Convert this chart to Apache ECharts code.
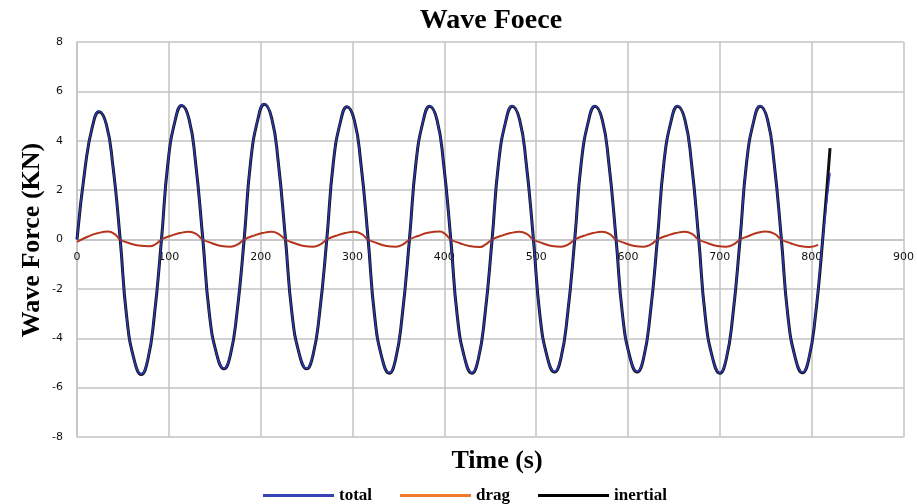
<!DOCTYPE html>
<html>
<head>
<meta charset="utf-8">
<style>
  html, body { margin: 0; padding: 0; background: #fff; }
  #main { width: 917px; height: 504px; }
</style>
<script src="https://cdn.jsdelivr.net/npm/echarts@6/dist/echarts.min.js"></script>
</head>
<body>
<div id="main"></div>
<script>
// sample times (s) for total / inertial
var forceTime = [
  0, 9, 17, 24, 32, 39, 47, 54, 62, 70, 77, 84,
  92, 99, 107, 114, 122, 129, 137, 144, 152, 160, 167, 174,
  182, 189, 197, 204, 212, 219, 227, 234, 242, 250, 257, 264,
  272, 279, 287, 294, 302, 309, 317, 324, 332, 340, 347, 354,
  362, 369, 377, 384, 392, 399, 407, 414, 422, 430, 437, 444,
  452, 459, 467, 474, 482, 489, 497, 504, 512, 520, 527, 534,
  542, 549, 557, 564, 572, 579, 587, 594, 602, 610, 617, 624,
  632, 639, 647, 654, 662, 669, 677, 684, 692, 700, 707, 714,
  722, 729, 737, 744, 752, 759, 767, 774, 782, 790, 797, 804,
  812, 820
];
var totalForce = [
  0, 2.98, 4.63, 5.2, 4.63, 2.98, 0, -3.13, -4.86, -5.45, -4.86, -3.13,
  0, 3.13, 4.86, 5.45, 4.86, 3.13, 0, -3.0, -4.65, -5.22, -4.65, -3.0,
  0, 3.16, 4.9, 5.5, 4.9, 3.16, 0, -3.0, -4.65, -5.22, -4.65, -3.0,
  0, 3.1, 4.81, 5.4, 4.81, 3.1, 0, -3.1, -4.81, -5.4, -4.81, -3.1,
  0, 3.11, 4.83, 5.42, 4.83, 3.11, 0, -3.1, -4.81, -5.4, -4.81, -3.1,
  0, 3.11, 4.83, 5.42, 4.83, 3.11, 0, -3.07, -4.77, -5.35, -4.77, -3.07,
  0, 3.11, 4.83, 5.42, 4.83, 3.11, 0, -3.07, -4.77, -5.35, -4.77, -3.07,
  0, 3.11, 4.83, 5.42, 4.83, 3.11, 0, -3.1, -4.81, -5.4, -4.81, -3.1,
  0, 3.11, 4.83, 5.42, 4.83, 3.11, 0, -3.09, -4.79, -5.38, -4.79, -3.09,
  0, 2.7
];
var inertialForce = [
  0, 2.95, 4.61, 5.17, 4.65, 3.01, 0.02, -3.1, -4.84, -5.47, -4.89, -3.16,
  0, 3.1, 4.84, 5.43, 4.88, 3.16, 0.02, -2.97, -4.63, -5.24, -4.68, -3.03,
  0, 3.13, 4.88, 5.48, 4.92, 3.19, 0.02, -2.97, -4.63, -5.24, -4.68, -3.03,
  0, 3.07, 4.79, 5.38, 4.83, 3.13, 0.02, -3.07, -4.79, -5.42, -4.84, -3.13,
  0, 3.08, 4.81, 5.4, 4.85, 3.14, 0.02, -3.07, -4.79, -5.42, -4.84, -3.13,
  0, 3.08, 4.81, 5.4, 4.85, 3.14, 0.02, -3.04, -4.75, -5.37, -4.8, -3.1,
  0, 3.08, 4.81, 5.4, 4.85, 3.14, 0.02, -3.04, -4.75, -5.37, -4.8, -3.1,
  0, 3.08, 4.81, 5.4, 4.85, 3.14, 0.02, -3.07, -4.79, -5.42, -4.84, -3.13,
  0, 3.08, 4.81, 5.4, 4.85, 3.14, 0.02, -3.06, -4.77, -5.4, -4.82, -3.12,
  0, 3.7
];
// drag is sampled on its own times
var dragTime = [
  0, 12, 22, 34, 41, 47, 57, 67, 79, 86,
  92, 102, 112, 122, 130, 137, 147, 157, 167, 175,
  182, 192, 202, 212, 220, 227, 237, 247, 257, 265,
  272, 282, 292, 302, 310, 317, 327, 337, 347, 355,
  362, 372, 382, 395, 401, 407, 417, 427, 439, 445,
  452, 462, 472, 482, 490, 497, 507, 517, 527, 535,
  542, 552, 562, 572, 580, 587, 597, 607, 617, 625,
  632, 642, 652, 662, 670, 677, 687, 697, 707, 715,
  722, 732, 740, 750, 760, 767, 777, 787, 798, 807
];
var dragForce = [
  -0.1, 0.12, 0.25, 0.32, 0.22, 0, -0.15, -0.24, -0.27, -0.18,
  0, 0.15, 0.26, 0.31, 0.22, 0, -0.15, -0.26, -0.29, -0.2,
  0, 0.15, 0.26, 0.31, 0.21, 0, -0.15, -0.26, -0.29, -0.2,
  0, 0.15, 0.26, 0.31, 0.22, 0, -0.15, -0.26, -0.29, -0.2,
  0, 0.15, 0.27, 0.32, 0.22, 0, -0.15, -0.26, -0.3, -0.2,
  0, 0.15, 0.26, 0.31, 0.22, 0, -0.15, -0.26, -0.29, -0.2,
  0, 0.15, 0.26, 0.31, 0.22, 0, -0.15, -0.26, -0.29, -0.2,
  0, 0.15, 0.26, 0.31, 0.22, 0, -0.15, -0.26, -0.29, -0.2,
  0, 0.15, 0.26, 0.32, 0.22, 0, -0.15, -0.26, -0.3, -0.22
];
var seriesNames = ['total', 'drag', 'inertial'];

function pairs(xs, ys) {
  return xs.map(function (x, i) { return [x, ys[i]]; });
}

var serif = '"Liberation Serif", "Times New Roman", serif';
var gridColor = '#c3c3c3';

var chart = echarts.init(document.getElementById('main'));
var option = {
  animation: false,
  title: {
    text: 'Wave Foece',
    left: 486,
    top: 2,
    textAlign: 'center',
    textStyle: { fontFamily: serif, fontSize: 28, fontWeight: 'bold', color: '#000' }
  },
  graphic: [
    {
      type: 'text',
      x: 32, y: 240,
      rotation: Math.PI / 2,
      style: {
        text: 'Wave Force (KN)',
        font: 'bold 26px ' + serif,
        fill: '#000',
        align: 'center',
        verticalAlign: 'middle'
      }
    },
    {
      type: 'text',
      x: 497, y: 461,
      style: {
        text: 'Time (s)',
        font: 'bold 26px ' + serif,
        fill: '#000',
        align: 'center',
        verticalAlign: 'middle'
      }
    }
  ],
  legend: {
    left: 258,
    top: 482,
    icon: 'rect',
    itemWidth: 71,
    itemHeight: 3,
    itemGap: 28,
    textStyle: { fontFamily: serif, fontSize: 17, fontWeight: 'bold', color: '#000' },
    data: [
      { name: 'total', itemStyle: { color: '#3742b5' } },
      { name: 'drag', itemStyle: { color: '#f07a2c' } },
      { name: 'inertial', itemStyle: { color: '#000000' } }
    ]
  },
  grid: { left: 77, right: 9, top: 42, bottom: 67 },
  xAxis: {
    type: 'value',
    min: 0, max: 900, interval: 100,
    offset: -197.5, // x axis sits on the zero line
    axisLine: { onZero: false, lineStyle: { color: gridColor, width: 1.5 } },
    axisTick: { show: false },
    axisLabel: { color: '#111', fontSize: 11, fontFamily: '"DejaVu Sans", sans-serif', margin: 12 },
    splitLine: { show: true, lineStyle: { color: gridColor, width: 1.5 } }
  },
  yAxis: {
    type: 'value',
    min: -8, max: 8, interval: 2,
    axisLine: { show: true, lineStyle: { color: gridColor, width: 1.5 } },
    axisTick: { show: false },
    axisLabel: { color: '#111', fontSize: 11, fontFamily: '"DejaVu Sans", sans-serif', margin: 14 },
    splitLine: { show: true, lineStyle: { color: gridColor, width: 1.5 } }
  },
  series: [
    {
      name: seriesNames[0],
      type: 'line',
      z: 4,
      smooth: true,
      showSymbol: false,
      itemStyle: { color: '#3742b5' },
      lineStyle: { color: '#2a38b0', width: 1.5 },
      data: pairs(forceTime, totalForce)
    },
    {
      name: seriesNames[1],
      type: 'line',
      z: 3,
      smooth: true,
      showSymbol: false,
      itemStyle: { color: '#f07a2c' },
      lineStyle: { color: '#b5341c', width: 2 },
      data: pairs(dragTime, dragForce)
    },
    {
      name: seriesNames[2],
      type: 'line',
      z: 2,
      smooth: true,
      showSymbol: false,
      itemStyle: { color: '#000000' },
      lineStyle: { color: '#111111', width: 3 },
      data: pairs(forceTime, inertialForce)
    }
  ]
};
chart.setOption(option);
</script>
</body>
</html>
